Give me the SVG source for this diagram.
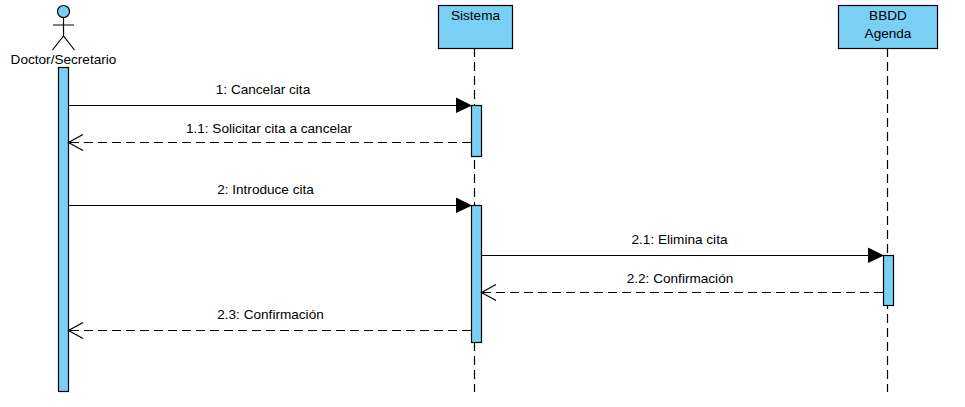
<svg xmlns="http://www.w3.org/2000/svg" width="965" height="407" viewBox="0 0 965 407">
<style>
text{font-family:"Liberation Sans",Arial,sans-serif;font-size:13.6px;fill:#000;text-anchor:middle}
.b{fill:#7ACFF5;stroke:#000;stroke-width:1.2}
.l{fill:none;stroke:#000;stroke-width:1.2}
.d{fill:none;stroke:#000;stroke-width:1.2;stroke-dasharray:9 5}
.t{fill:#000;stroke:none}
</style>
<rect width="965" height="407" fill="#fff"/>
<g id="lifelines">
<path class="d" d="M474.500 48V392"/>
<path class="d" d="M887.500 48V392"/>
</g>
<g id="doctor">
<circle class="b" cx="63.500" cy="11.500" r="6"/>
<path class="l" d="M63.500 17.500V36M53 25H74M52.500 50L63.500 36L74.500 50"/>
<text x="63.500" y="63.500">Doctor/Secretario</text>
<rect class="b" x="58.500" y="67.500" width="10" height="324"/>
</g>
<g id="sistema">
<rect class="b" x="438.500" y="5.500" width="74" height="43"/>
<text x="475.500" y="19.500">Sistema</text>
<rect class="b" x="471.500" y="105.500" width="10" height="51"/>
<rect class="b" x="471.500" y="205.500" width="10" height="137"/>
</g>
<g id="bbdd">
<rect class="b" x="838.500" y="5.500" width="99" height="43"/>
<text x="888" y="19.500">BBDD</text>
<text x="888" y="37.500">Agenda</text>
<rect class="b" x="883.500" y="255.500" width="10" height="50"/>
</g>
<g id="connectors">
<path class="l" d="M68.500 105.500H460"/>
<polygon class="t" points="456,97.500 472,105.500 456,113"/>
<path class="d" d="M471 142.500H70"/>
<path class="l" d="M83 134.500L68.500 142.500L83 150.500"/>
<path class="l" d="M68.500 205.500H460"/>
<polygon class="t" points="456,197.500 472,205.500 456,213"/>
<path class="l" d="M481.500 255.500H872"/>
<polygon class="t" points="868,247.500 884,255.500 868,263"/>
<path class="d" d="M883 292.500H483"/>
<path class="l" d="M496 284.500L481.500 292.500L496 300.500"/>
<path class="d" d="M471 330.500H70"/>
<path class="l" d="M83 322.500L68.500 330.500L83 338.500"/>
</g>
<g id="labels">
<text x="263" y="93.500">1: Cancelar cita</text>
<text x="269" y="132.500">1.1: Solicitar cita a cancelar</text>
<text x="265.500" y="193.500">2: Introduce cita</text>
<text x="679.500" y="243.500">2.1: Elimina cita</text>
<text x="680" y="282.500">2.2: Confirmación</text>
<text x="270.500" y="318.500">2.3: Confirmación</text>
</g>
</svg>
